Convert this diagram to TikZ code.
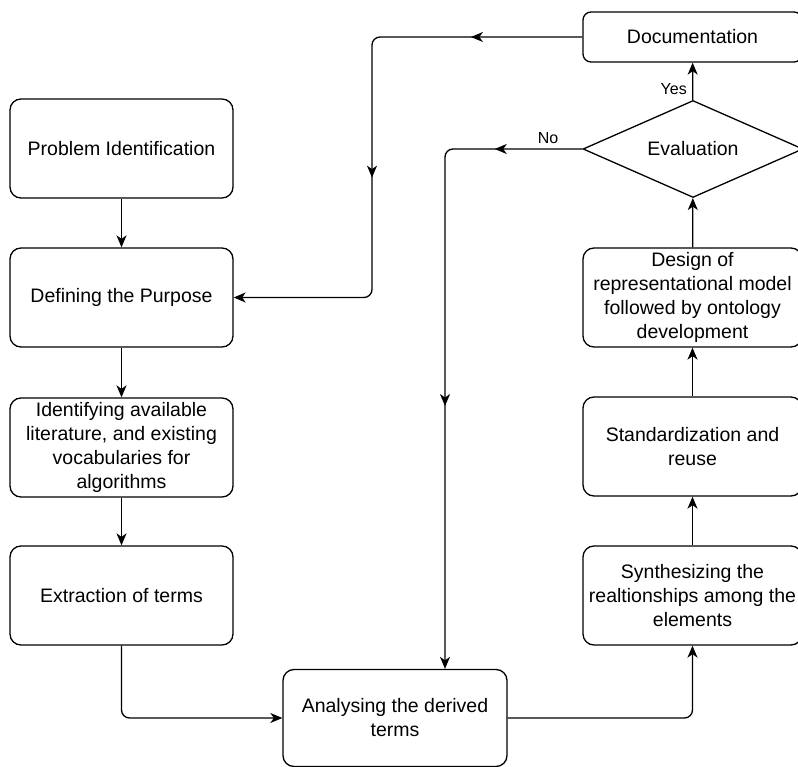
\documentclass[tikz,border=0pt]{standalone}
\usepackage{fontspec}
\setmainfont{Liberation Sans}
\usetikzlibrary{arrows.meta,shapes.geometric,decorations.markings}

\tikzset{
  tip/.tip={Stealth[length=12pt,width=10pt,inset=3.5pt]},
  stepbox/.style={draw,rounded corners=11pt,line width=1.3pt,minimum width=223pt,
    minimum height=99pt,align=center,inner sep=2pt,font=\fontsize{19.5}{24}\selectfont},
  decision/.style={draw,diamond,aspect=2.3,line width=1.3pt,minimum width=220pt,minimum height=97pt,
    inner sep=0pt,font=\fontsize{19.5}{24}\selectfont},
  flow/.style={line width=1.3pt,rounded corners=8pt,-tip},
  twomarks/.style 2 args={postaction={decorate},decoration={markings,
    mark=at position #1 with {\arrow{tip}},mark=at position #2 with {\arrow{tip}}}},
  lbl/.style={font=\fontsize{16}{18}\selectfont}
}

\begin{document}
\begin{tikzpicture}[x=1pt,y=-1pt]
  \useasboundingbox (0,0) rectangle (798,767);
  % left column
  \node [stepbox] (prob) at (121.5,148.5) {Problem Identification};
  \node [stepbox] (purp) at (121.5,297.5) {Defining the Purpose};
  \node [stepbox] (lit) at (121.5,447.5) {Identifying available\\literature, and existing\\vocabularies for\\algorithms};
  \node [stepbox] (extr) at (121.5,595.5) {Extraction of terms};
  \node [stepbox,minimum width=224pt,minimum height=97pt] (anal) at (395,718) {Analysing the derived\\terms};
  % right column
  \node [stepbox,minimum width=219pt] (synth) at (692.5,595.5) {Synthesizing the\\realtionships among the\\elements};
  \node [stepbox,minimum width=219pt] (stand) at (692.5,446.5) {Standardization and\\reuse};
  \node [stepbox,minimum width=219pt] (design) at (692.5,297.5) {Design of\\representational model\\followed by ontology\\development};
  \node [decision] (eval) at (693,149) {Evaluation};
  \node [stepbox,minimum width=219pt,minimum height=50pt,rounded corners=8pt] (doc) at (692.5,37) {Documentation};
  \coordinate (backx) at (372,37);
  \coordinate (nox) at (445,149);

  \draw [flow] (prob) -- (purp);
  \draw [flow] (purp) -- (lit);
  \draw [flow] (lit) -- (extr);
  \draw [flow] (extr.south) |- (anal.west);
  \draw [flow] (anal.east) -| (synth.south);
  \draw [flow] (synth) -- (stand);
  \draw [flow] (stand) -- (design);
  \draw [flow] (design) -- (eval);
  \draw [flow] (eval) -- (doc) node [lbl,pos=0.3,left=2pt] {Yes};
  \draw [flow,twomarks={0.185}{0.577}] (doc.west) -- (backx) |- (purp.east);
  \draw [flow,twomarks={0.134}{0.598}] (eval.west) -- (nox) node [lbl,pos=0.25,above=1pt] {No}
    -- (nox |- anal.north);
\end{tikzpicture}
\end{document}
